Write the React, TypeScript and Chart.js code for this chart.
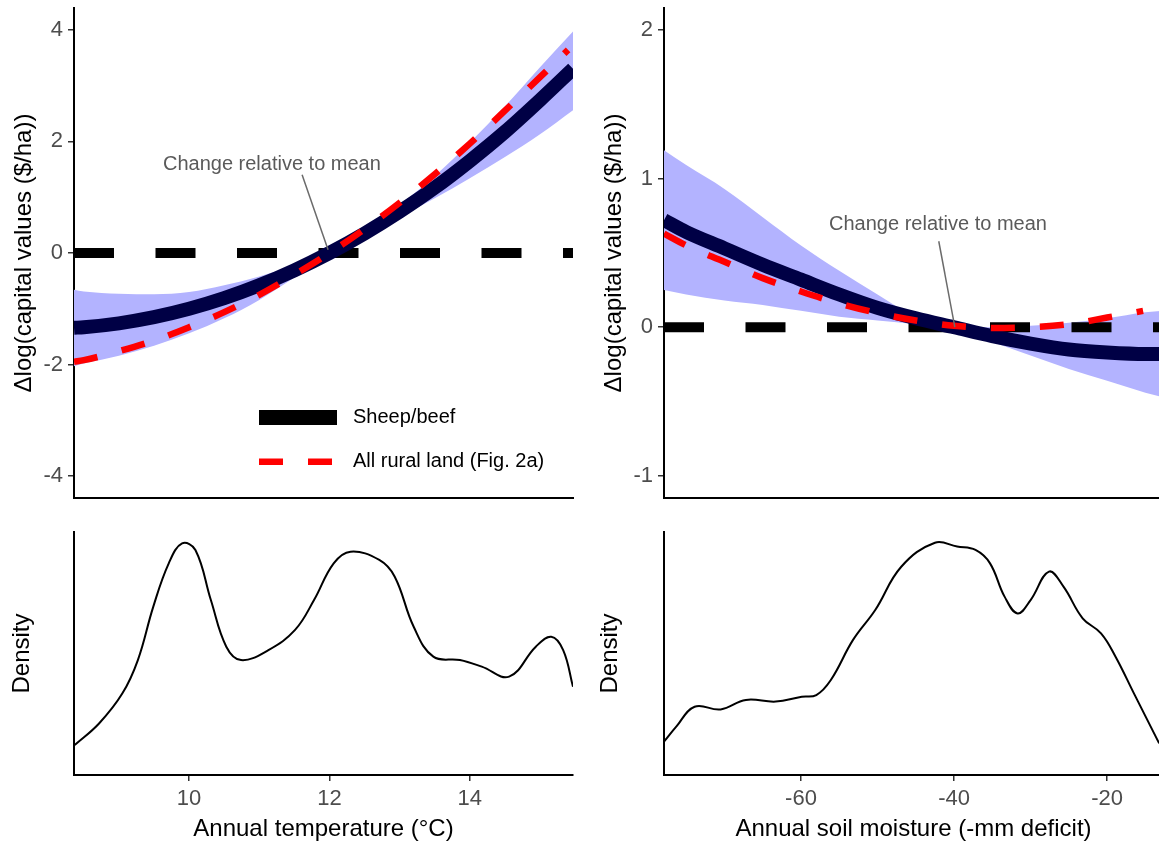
import React, { useEffect, useRef } from 'react';
import { Chart, registerables } from 'chart.js';

Chart.register(...registerables);

const FONT = "'Liberation Sans', Arial, Helvetica, sans-serif";
Chart.defaults.font.family = FONT;

// ---------- Temperature response (top-left) ----------
const TEMP_X = [8.36, 8.5, 9, 9.5, 10, 10.5, 11, 11.5, 12, 12.5, 13, 13.5, 14, 14.5, 15, 15.47];
const TEMP_SHEEP = [-1.34, -1.33, -1.26, -1.15, -1.0, -0.81, -0.58, -0.31, 0.0, 0.35, 0.74, 1.17, 1.65, 2.17, 2.74, 3.3];
const TEMP_UPPER = [-0.66, -0.69, -0.73, -0.74, -0.7, -0.58, -0.42, -0.22, 0.04, 0.4, 0.86, 1.38, 1.98, 2.63, 3.33, 3.97];
const TEMP_LOWER = [-2.03, -1.98, -1.84, -1.66, -1.44, -1.17, -0.84, -0.44, -0.04, 0.31, 0.64, 0.98, 1.34, 1.72, 2.13, 2.56];
const TEMP_RURAL_X = [8.36, 8.5, 9, 9.5, 10, 10.5, 11, 11.5, 12, 12.5, 13, 13.5, 14, 14.5, 15, 15.4];
const TEMP_RURAL = [-1.95, -1.92, -1.76, -1.57, -1.33, -1.06, -0.75, -0.39, 0.0, 0.43, 0.9, 1.41, 1.96, 2.55, 3.15, 3.64];
const TEMP_X_RANGE = [8.36, 15.47];
const TEMP_Y_RANGE = [-4.39, 4.39];
const TEMP_Y_TICKS = [-4, -2, 0, 2, 4];

// ---------- Soil moisture response (top-right) ----------
const SOIL_X = [-77.9, -75, -70, -65, -60, -55, -50, -45, -40, -35, -30, -25, -20, -15, -12.7];
const SOIL_SHEEP = [0.72, 0.64, 0.53, 0.42, 0.32, 0.22, 0.13, 0.06, 0.0, -0.06, -0.11, -0.15, -0.17, -0.18, -0.18];
const SOIL_UPPER = [1.19, 1.09, 0.93, 0.74, 0.55, 0.38, 0.22, 0.07, 0.01, 0.0, 0.01, 0.03, 0.06, 0.1, 0.11];
const SOIL_LOWER = [0.25, 0.22, 0.18, 0.15, 0.11, 0.07, 0.045, 0.02, -0.01, -0.1, -0.19, -0.28, -0.36, -0.44, -0.47];
const SOIL_RURAL_X = [-77.9, -75, -70, -65, -60, -55, -50, -45, -40, -35, -30, -25, -20, -15.3];
const SOIL_RURAL = [0.63, 0.55, 0.44, 0.33, 0.24, 0.16, 0.095, 0.045, 0.01, -0.005, 0.0, 0.02, 0.065, 0.11];
const SOIL_X_RANGE = [-77.9, -12.7];
const SOIL_Y_RANGE = [-1.148, 2.146];
const SOIL_Y_TICKS = [-1, 0, 1, 2];

// ---------- Densities (bottom) ----------
const DENS_TEMP_X = [8.37, 8.72, 9.05, 9.27, 9.49, 9.71, 9.9, 10.09, 10.31, 10.53, 10.74, 11.13, 11.51, 11.78, 12.06, 12.3, 12.71, 12.93, 13.2, 13.48, 13.86, 14.17, 14.56, 14.94, 15.16, 15.33, 15.47];
const DENS_TEMP_Y = [0.123, 0.213, 0.336, 0.473, 0.693, 0.871, 0.953, 0.926, 0.72, 0.528, 0.473, 0.514, 0.597, 0.72, 0.871, 0.919, 0.885, 0.816, 0.61, 0.487, 0.473, 0.446, 0.405, 0.528, 0.569, 0.514, 0.363];
const DENS_SOIL_X = [-77.9, -76.3, -73.9, -70.5, -67.2, -63.3, -59.9, -58.0, -56.1, -53.2, -50.3, -46.9, -42.5, -39.6, -37.2, -35.3, -33.4, -31.7, -30.0, -27.6, -25.7, -23.2, -20.8, -18.9, -16.5, -13.2];
const DENS_SOIL_Y = [0.137, 0.199, 0.281, 0.27, 0.309, 0.302, 0.322, 0.329, 0.391, 0.556, 0.679, 0.857, 0.956, 0.94, 0.926, 0.871, 0.734, 0.665, 0.72, 0.837, 0.775, 0.645, 0.583, 0.487, 0.336, 0.13];
const DENS_Y_RANGE = [0, 1];
const TEMP_X_TICKS = [10, 12, 14];
const SOIL_X_TICKS = [-60, -40, -20];

// ---------- Text ----------
const Y_TITLE = 'Δlog(capital values ($/ha))';
const DENS_TITLE = 'Density';
const TEMP_X_TITLE = 'Annual temperature (°C)';
const SOIL_X_TITLE = 'Annual soil moisture (-mm deficit)';
const LEGEND_LABELS = ['Sheep/beef', 'All rural land (Fig. 2a)'];
const NOTE = 'Change relative to mean';
const TEMP_NOTE = { tx: 11.18, ty: 1.58, x1: 11.61, y1: 1.4, x2: 11.98, y2: 0.06 };
const SOIL_NOTE = { tx: -42.1, ty: 0.69, x1: -42.0, y1: 0.578, x2: -39.9, y2: 0.0 };

const NAVY = '#000045';
const BAND = 'rgb(179,179,255)';
const RED = '#FF0000';
const TICK_COLOR = '#4D4D4D';

const zip = (xs: number[], ys: number[]) => xs.map((x, i) => ({ x, y: ys[i] }));

function makeOverlay(note: any, withLegend: boolean) {
  return {
    id: 'overlay',
    afterDatasetsDraw(chart: any) {
      const { ctx, chartArea: a } = chart;
      const xs = chart.scales.x;
      const ys = chart.scales.y;
      ctx.save();
      ctx.strokeStyle = '#6b6b6b';
      ctx.lineWidth = 1.5;
      ctx.setLineDash([]);
      ctx.beginPath();
      ctx.moveTo(xs.getPixelForValue(note.x1), ys.getPixelForValue(note.y1));
      ctx.lineTo(xs.getPixelForValue(note.x2), ys.getPixelForValue(note.y2));
      ctx.stroke();
      ctx.fillStyle = '#5a5a5a';
      ctx.font = `20px ${FONT}`;
      ctx.textAlign = 'center';
      ctx.textBaseline = 'middle';
      ctx.fillText(NOTE, xs.getPixelForValue(note.tx), ys.getPixelForValue(note.ty));
      if (withLegend) {
        const kx = a.left + 185;
        const r1 = a.top + 409.5;
        const r2 = a.top + 453.7;
        ctx.strokeStyle = '#000';
        ctx.lineWidth = 15;
        ctx.beginPath();
        ctx.moveTo(kx, r1);
        ctx.lineTo(kx + 78, r1);
        ctx.stroke();
        ctx.strokeStyle = RED;
        ctx.lineWidth = 6.5;
        ctx.setLineDash([24, 25]);
        ctx.beginPath();
        ctx.moveTo(kx, r2);
        ctx.lineTo(kx + 73, r2);
        ctx.stroke();
        ctx.setLineDash([]);
        ctx.fillStyle = '#000';
        ctx.textAlign = 'left';
        ctx.fillText(LEGEND_LABELS[0], kx + 94, r1);
        ctx.fillText(LEGEND_LABELS[1], kx + 94, r2);
      }
      ctx.restore();
    },
  };
}

const yTickGrid = { display: true, drawOnChartArea: false, drawTicks: true, tickLength: 6, color: '#333333', lineWidth: 1.5 };
const axisBorder = { display: true, color: '#000', width: 2 };

function responseConfig(p: any) {
  const common = { pointRadius: 0, cubicInterpolationMode: 'monotone', clip: 0 };
  return {
    type: 'line',
    data: {
      datasets: [
        { ...common, label: LEGEND_LABELS[1], data: zip(p.rx, p.rural), borderColor: RED, borderWidth: 6.5, borderDash: [24, 25], fill: false },
        { ...common, label: LEGEND_LABELS[0], data: zip(p.x, p.sheep), borderColor: NAVY, borderWidth: 14, fill: false },
        { ...common, label: 'zero', data: [{ x: p.xr[0], y: 0 }, { x: p.xr[1], y: 0 }], borderColor: '#000', borderWidth: 10, borderDash: [40, 41.5], fill: false },
        { ...common, label: 'upper', data: zip(p.x, p.upper), borderColor: 'rgba(0,0,0,0)', borderWidth: 1, fill: false },
        { ...common, label: 'lower', data: zip(p.x, p.lower), borderColor: 'rgba(0,0,0,0)', borderWidth: 1, backgroundColor: BAND, fill: '-1' },
      ],
    },
    options: {
      responsive: false,
      maintainAspectRatio: false,
      animation: false,
      layout: { padding: p.padding },
      plugins: { legend: { display: false }, tooltip: { enabled: false } },
      scales: {
        x: {
          type: 'linear', min: p.xr[0], max: p.xr[1],
          grid: { display: false }, ticks: { display: false }, border: axisBorder,
          afterFit: (s: any) => { s.height = 0; s.paddingLeft = 0; s.paddingRight = 0; },
        },
        y: {
          type: 'linear', min: p.yr[0], max: p.yr[1],
          afterBuildTicks: (s: any) => { s.ticks = p.yTicks.map((v: number) => ({ value: v })); },
          ticks: { color: TICK_COLOR, font: { size: 22, family: FONT }, padding: 5, callback: (v: any) => String(v) },
          grid: yTickGrid, border: axisBorder,
          title: { display: true, text: Y_TITLE, color: '#000', font: { size: 24, family: FONT }, padding: { top: p.titlePad, bottom: 0 } },
          afterFit: (s: any) => { s.width = 74; s.paddingTop = 0; s.paddingBottom = 0; },
        },
      },
    },
    plugins: [makeOverlay(p.note, p.legend)],
  };
}

function densityConfig(p: any) {
  return {
    type: 'line',
    data: {
      datasets: [
        { label: 'density', data: zip(p.x, p.y), borderColor: '#000', borderWidth: 2, pointRadius: 0, tension: 0.4, clip: 0, fill: false },
      ],
    },
    options: {
      responsive: false,
      maintainAspectRatio: false,
      animation: false,
      layout: { padding: p.padding },
      plugins: { legend: { display: false }, tooltip: { enabled: false } },
      scales: {
        x: {
          type: 'linear', min: p.xr[0], max: p.xr[1],
          afterBuildTicks: (s: any) => { s.ticks = p.xTicks.map((v: number) => ({ value: v })); },
          ticks: { color: TICK_COLOR, font: { size: 22, family: FONT }, padding: 5, callback: (v: any) => String(v) },
          grid: yTickGrid, border: axisBorder,
          title: { display: true, text: p.xTitle, color: '#000', font: { size: 24, family: FONT }, padding: { top: 0, bottom: 4.6 } },
          afterFit: (s: any) => { s.height = 73; s.paddingLeft = 0; s.paddingRight = 0; },
        },
        y: {
          type: 'linear', min: DENS_Y_RANGE[0], max: DENS_Y_RANGE[1],
          grid: { display: false }, ticks: { display: false }, border: axisBorder,
          title: { display: true, text: DENS_TITLE, color: '#000', font: { size: 24, family: FONT }, padding: { top: p.titlePad, bottom: 0 } },
          afterFit: (s: any) => { s.width = 74; s.paddingTop = 0; s.paddingBottom = 0; },
        },
      },
    },
  };
}

function ChartCanvas({ make, left, top, width, height }: any) {
  const ref = useRef<HTMLCanvasElement | null>(null);
  useEffect(() => {
    const chart = new Chart(ref.current as any, make() as any);
    return () => chart.destroy();
  }, []);
  return (
    <canvas
      ref={ref}
      width={width}
      height={height}
      style={{ position: 'absolute', left, top, width, height }}
    />
  );
}

export default function App() {
  return (
    <div style={{ position: 'fixed', left: 0, top: 0, width: 1159, height: 848, overflow: 'hidden', background: '#fff' }}>
      <ChartCanvas
        left={0} top={0} width={600} height={520}
        make={() => responseConfig({
          x: TEMP_X, sheep: TEMP_SHEEP, upper: TEMP_UPPER, lower: TEMP_LOWER, rx: TEMP_RURAL_X, rural: TEMP_RURAL,
          xr: TEMP_X_RANGE, yr: TEMP_Y_RANGE, yTicks: TEMP_Y_TICKS, note: TEMP_NOTE, legend: true,
          padding: { top: 8, right: 27, bottom: 22, left: 0 }, titlePad: 10,
        })}
      />
      <ChartCanvas
        left={590} top={0} width={590} height={520}
        make={() => responseConfig({
          x: SOIL_X, sheep: SOIL_SHEEP, upper: SOIL_UPPER, lower: SOIL_LOWER, rx: SOIL_RURAL_X, rural: SOIL_RURAL,
          xr: SOIL_X_RANGE, yr: SOIL_Y_RANGE, yTicks: SOIL_Y_TICKS, note: SOIL_NOTE, legend: false,
          padding: { top: 8, right: 17, bottom: 22, left: 0 }, titlePad: 9.6,
        })}
      />
      <ChartCanvas
        left={0} top={520} width={600} height={328}
        make={() => densityConfig({
          x: DENS_TEMP_X, y: DENS_TEMP_Y, xr: TEMP_X_RANGE, xTicks: TEMP_X_TICKS, xTitle: TEMP_X_TITLE,
          padding: { top: 12, right: 27, bottom: 0, left: 0 }, titlePad: 7.6,
        })}
      />
      <ChartCanvas
        left={590} top={520} width={590} height={328}
        make={() => densityConfig({
          x: DENS_SOIL_X, y: DENS_SOIL_Y, xr: SOIL_X_RANGE, xTicks: SOIL_X_TICKS, xTitle: SOIL_X_TITLE,
          padding: { top: 12, right: 17, bottom: 0, left: 0 }, titlePad: 5.6,
        })}
      />
    </div>
  );
}
